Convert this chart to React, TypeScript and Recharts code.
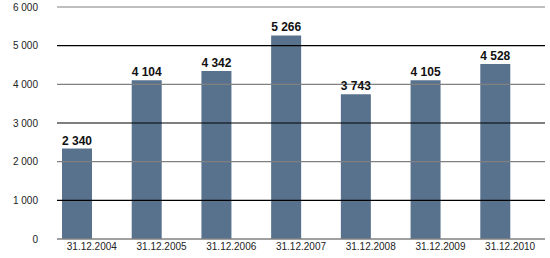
import { BarChart, Bar, XAxis, YAxis, ReferenceLine, LabelList } from "recharts";

const dates = [
  "31.12.2004",
  "31.12.2005",
  "31.12.2006",
  "31.12.2007",
  "31.12.2008",
  "31.12.2009",
  "31.12.2010",
];
const values = [2340, 4104, 4342, 5266, 3743, 4105, 4528];
const yTicks = [0, 1000, 2000, 3000, 4000, 5000, 6000];

const data = dates.map((date, i) => ({ date, value: values[i], empty: 0 }));

// thousands separated by a non-breaking space so labels don't wrap
const fmt = (v: number) => String(v).replace(/\B(?=(\d{3})+(?!\d))/g, "\u00a0");

const FONT = "'Liberation Sans', Arial, sans-serif";

export default function App() {
  return (
    <div style={{ position: "absolute", left: 0, top: 0, background: "#fff" }}>
      <BarChart
        width={550}
        height={258}
        data={data}
        margin={{ top: 7, right: 5, bottom: 0, left: 0 }}
        barGap={0}
        barCategoryGap={0}
      >
        <XAxis
          dataKey="date"
          axisLine={{ stroke: "#808080", strokeWidth: 1.5 }}
          tickLine={false}
          tickSize={0}
          tickMargin={4}
          height={19}
          interval={0}
          tick={{ fontSize: 10, fill: "#222", fontFamily: FONT }}
        />
        <YAxis
          domain={[0, 6000]}
          ticks={yTicks}
          width={57}
          axisLine={false}
          tickLine={false}
          tickSize={0}
          tickMargin={19}
          tickFormatter={fmt}
          tick={{ fontSize: 10, fill: "#222", fontFamily: FONT }}
        />
        {yTicks
          .filter((t) => t > 0)
          .map((t) => (
            <ReferenceLine
              key={t}
              y={t}
              stroke={(t / 1000) % 2 === 0 ? "#808080" : "#000"}
              strokeWidth={1.2}
            />
          ))}
        <Bar dataKey="value" fill="#58728E" barSize={30} isAnimationActive={false}>
          <LabelList
            dataKey="value"
            position="top"
            offset={4}
            formatter={(v: number) => fmt(v)}
            style={{ fontSize: 12, fontWeight: "bold", fill: "#111", fontFamily: FONT }}
          />
        </Bar>
        <Bar dataKey="empty" fill="transparent" barSize={30} isAnimationActive={false} />
      </BarChart>
    </div>
  );
}
